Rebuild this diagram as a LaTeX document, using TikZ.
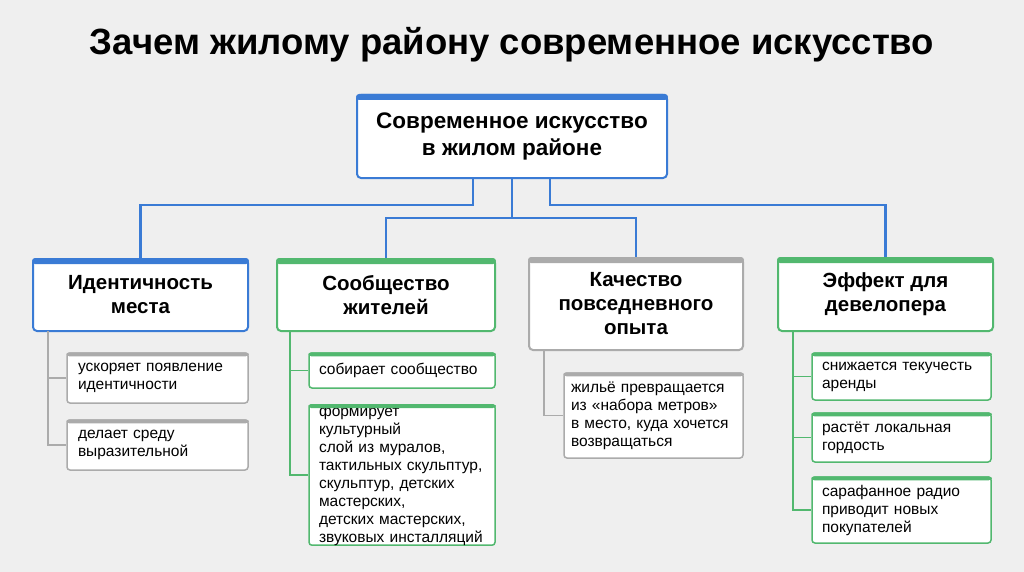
\documentclass[tikz,border=0pt]{standalone}
\usepackage{fontspec}
\setmainfont{Liberation Sans}
\usetikzlibrary{calc}
\definecolor{cb}{HTML}{3A7BD5}
\definecolor{cg}{HTML}{52B86F}
\definecolor{cy}{HTML}{ABABAB}
\definecolor{bg}{HTML}{EFEFEF}
\tikzset{
 bx/.style={draw=#1, line width=2pt, fill=white, rounded corners=4pt, inner sep=0pt, align=center, font=\fontsize{20.5}{24}\selectfont\bfseries},
 sb/.style={draw=#1, line width=1.5pt, fill=white, rounded corners=3pt, inner sep=0pt, font=\fontsize{15.5}{18}\selectfont, align=left},
 ln/.style={draw=cb, line width=2.2pt},
 tr/.style={draw=#1, line width=1.5pt}
}
\newcommand\topbar[3]{\fill[#1,rounded corners=3pt] (#2.north west) rectangle ($(#2.north east)+(0,#3)$);}
\begin{document}
\begin{tikzpicture}[x=1pt,y=-1pt]
\fill[bg] (0,0) rectangle (1024,572);
\useasboundingbox (0,0) rectangle (1024,572);
\node[font=\fontsize{36.5}{40}\selectfont\bfseries] (title) at (512,45) {Зачем жилому району современное искусство};
% root
\node[bx=cb, minimum width=310, minimum height=83, font=\fontsize{22.5}{27}\selectfont\bfseries] (root) at (512,136.5) {Современное искусство\\в жилом районе};
\topbar{cb}{root}{6}
% level 1
\node[bx=cb, minimum width=215, minimum height=72] (a) at (140.5,295) {Идентичность\\места};
\topbar{cb}{a}{6}
\node[bx=cg, minimum width=218, minimum height=72] (b) at (386,295) {Сообщество\\жителей};
\topbar{cg}{b}{6}
\node[bx=cy, minimum width=214, minimum height=92] (c) at (636,304) {Качество\\повседневного\\опыта};
\topbar{cy}{c}{6}
\node[bx=cg, minimum width=215, minimum height=73] (d) at (885.5,294.5) {Эффект для\\девелопера};
\topbar{cg}{d}{6}
% connectors
\coordinate (r1) at (473,178); \coordinate (r2) at (512,178); \coordinate (r3) at (550,178);
\draw[ln] (r1) -- (473,205) -| (a.north);
\draw[ln] (r2) -- (512,218) -| (b.north);
\draw[ln] (512,205) -- (512,218) -| (c.north);
\draw[ln] (r3) -- (550,205) -| (d.north);
% subs A
\node[sb=cy, text width=159pt, minimum width=181, minimum height=50] (a1) at (157.5,378) {ускоряет появление\\идентичности};
\topbar{cy}{a1}{4}
\node[sb=cy, text width=159pt, minimum width=181, minimum height=50] (a2) at (157.5,445) {делает среду\\выразительной};
\topbar{cy}{a2}{4}
\coordinate (at) at (48,331);
\draw[tr=cy] (at) -- (48,445) -- (a2.west);
\draw[tr=cy] (48,378) -- (a1.west);
% subs B
\node[sb=cg, text width=166pt, minimum width=186, minimum height=35] (b1) at (402,370.5) {собирает сообщество};
\topbar{cg}{b1}{4}
\node[sb=cg, text width=166pt, minimum width=186, minimum height=140] (b2) at (402,475) {формирует культурный\\слой из муралов,\\тактильных скульптур,\\скульптур, детских\\мастерских,\\детских мастерских,\\звуковых инсталляций};
\topbar{cg}{b2}{4}
\coordinate (bt) at (290,331);
\draw[tr=cg] (bt) -- (290,475) -- (b2.west);
\draw[tr=cg] (290,370.5) -- (b1.west);
% subs C
\node[sb=cy, text width=165pt, minimum width=179, minimum height=85] (c1) at (653.5,415.5) {жильё превращается\\из «набора метров»\\в место, куда хочется\\возвращаться};
\topbar{cy}{c1}{4}
\coordinate (ct) at (544,350);
\draw[tr=cy] (ct) -- (544,415.5) -- (c1.west);
% subs D
\node[sb=cg, text width=159pt, minimum width=179, minimum height=47] (d1) at (901.5,376.5) {снижается текучесть\\аренды};
\topbar{cg}{d1}{4}
\node[sb=cg, text width=159pt, minimum width=179, minimum height=49] (d2) at (901.5,437.5) {растёт локальная\\гордость};
\topbar{cg}{d2}{4}
\node[sb=cg, text width=159pt, minimum width=179, minimum height=66] (d3) at (901.5,510) {сарафанное радио\\приводит новых\\покупателей};
\topbar{cg}{d3}{4}
\coordinate (dt) at (793,331);
\draw[tr=cg] (dt) -- (793,510) -- (d3.west);
\draw[tr=cg] (793,376.5) -- (d1.west);
\draw[tr=cg] (793,437.5) -- (d2.west);
\end{tikzpicture}
\end{document}
